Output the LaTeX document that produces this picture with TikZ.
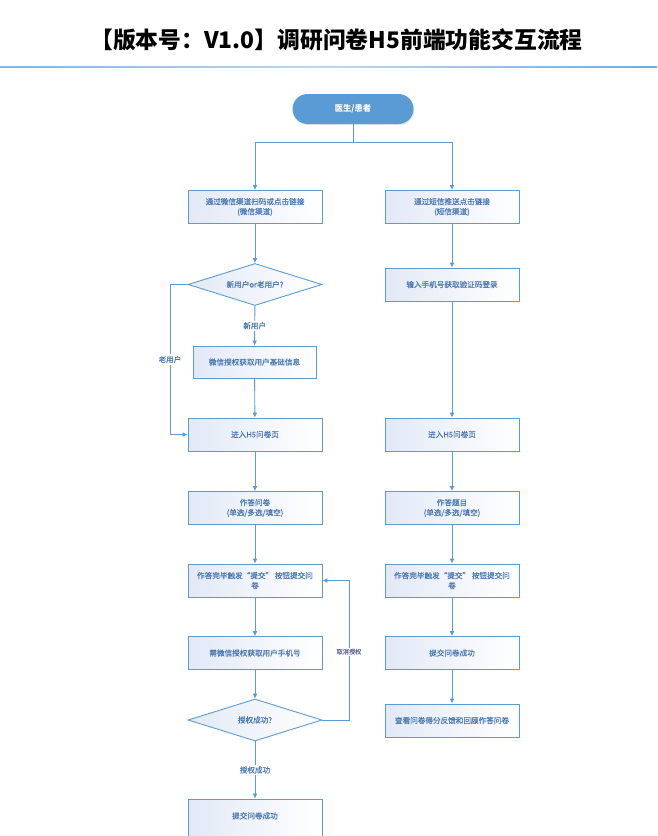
\documentclass[tikz,border=0pt]{standalone}
\usepackage{fontspec}
\setmainfont{Noto Sans CJK SC}
\newfontfamily\boxfont{Noto Sans CJK SC}[FakeBold=0.5]
\usetikzlibrary{shapes.geometric,arrows.meta,shadows}
\definecolor{lineblue}{HTML}{5B9BD5}
\definecolor{txtblue}{HTML}{4A78B5}
\definecolor{boxl}{HTML}{E2E9F6}
\definecolor{lblred}{HTML}{6A6C9C}
\tikzset{
  flowbox/.style={draw=lineblue, line width=0.9pt, left color=boxl, right color=white,
    minimum width=134pt, minimum height=33pt, inner sep=1pt, align=center,
    font=\boxfont\fontsize{7.6}{10}\selectfont, text=txtblue},
  decide/.style={draw=lineblue, line width=0.9pt, left color=boxl, right color=white,
    shape=diamond, minimum width=134pt, minimum height=42pt, inner sep=0pt, aspect=3.2,
    font=\boxfont\fontsize{7.6}{10}\selectfont, text=txtblue},
  startnode/.style={fill=lineblue, rounded corners=15pt, minimum width=121pt, minimum height=30pt,
    text=white, font=\fontsize{8.3}{10}\selectfont\bfseries,
    drop shadow={opacity=0.18, shadow xshift=0.8pt, shadow yshift=-1pt}},
  conn/.style={draw=lineblue, line width=0.9pt},
  arr/.style={conn, -{Latex[length=5pt,width=5pt]}},
  lbl/.style={fill=white, inner sep=1.5pt, text=txtblue, font=\boxfont\fontsize{7.6}{10}\selectfont},
  lblsmall/.style={fill=white, inner sep=1pt, text=lblred, font=\boxfont\fontsize{6.2}{8}\selectfont},
}
\begin{document}
\begin{tikzpicture}[x=1pt,y=-1pt]
\clip (0,0) rectangle (657,836);
\useasboundingbox (0,0) rectangle (657,836);
\fill[white] (0,0) rectangle (657,836);
% title
\node[font=\fontsize{22.8}{25}\selectfont\bfseries, text=black] (title) at (336.5,40) {【版本号：V1.0】调研问卷H5前端功能交互流程};
\shade[left color=lineblue!75, right color=lineblue!85, middle color=lineblue!40] (0,66.4) rectangle (657,67.8);
% nodes
\node[startnode] (start) at (353,109) {医生/患者};
\node[flowbox] (l1) at (255,207) {通过微信渠道扫码或点击链接\\(微信渠道)};
\node[flowbox] (r1) at (452,207) {通过短信推送点击链接\\(短信渠道)};
\node[decide] (d1) at (255,284.5) {新用户or老用户?};
\node[flowbox, minimum width=123pt, minimum height=32pt] (l2) at (254.5,362) {微信授权获取用户基础信息};
\node[flowbox] (l3) at (255,434.5) {进入H5问卷页};
\node[flowbox] (r2) at (452,284.5) {输入手机号获取验证码登录};
\node[flowbox] (r3) at (452,434.5) {进入H5问卷页};
\node[flowbox] (l4) at (255,508) {作答问卷\\(单选/多选/填空)};
\node[flowbox] (r4) at (452,508) {作答题目\\(单选/多选/填空)};
\node[flowbox] (l5) at (255,580.5) {作答完毕触发“提交” 按钮提交问\\卷};
\node[flowbox] (r5) at (452,580.5) {作答完毕触发“提交” 按钮提交问\\卷};
\node[flowbox] (l6) at (255,653) {需微信授权获取用户手机号};
\node[flowbox] (r6) at (452,653) {提交问卷成功};
\node[decide] (d2) at (255,720) {授权成功?};
\node[flowbox] (r7) at (452,720.5) {查看问卷得分反馈和回顾作答问卷};
\node[flowbox, minimum height=42pt] (l7) at (255,820) {\raisebox{9pt}{提交问卷成功}};
% connectors
\coordinate (split) at (353,142);
\draw[conn] (start.south) -- (split);
\draw[arr] (split) -| (l1.north);
\draw[arr] (split) -| (r1.north);
\draw[arr] (l1) -- (d1);
\draw[arr] (d1) -- node[lbl, pos=0.5] {新用户} (l2);
\draw[arr] (l2) -- (l3);
\coordinate (oldA) at (170,284.5);
\coordinate (oldB) at (170,434.5);
\draw[arr] (d1.west) -- (oldA) -- node[lbl, pos=0.5] {老用户} (oldB) -- (l3.west);
\draw[arr] (l3) -- (l4);
\draw[arr] (l4) -- (l5);
\draw[arr] (l5) -- (l6);
\draw[arr] (l6) -- (d2);
\draw[arr] (d2) -- node[lbl, pos=0.5] {授权成功} (l7);
\coordinate (loopA) at (349,720);
\coordinate (loopB) at (349,580.5);
\draw[arr] (d2.east) -- (loopA) -- node[lblsmall, pos=0.49] {取消授权} (loopB) -- (l5.east);
\draw[arr] (r1) -- (r2);
\draw[arr] (r2) -- (r3);
\draw[arr] (r3) -- (r4);
\draw[arr] (r4) -- (r5);
\draw[arr] (r5) -- (r6);
\draw[arr] (r6) -- (r7);
\end{tikzpicture}
\end{document}
